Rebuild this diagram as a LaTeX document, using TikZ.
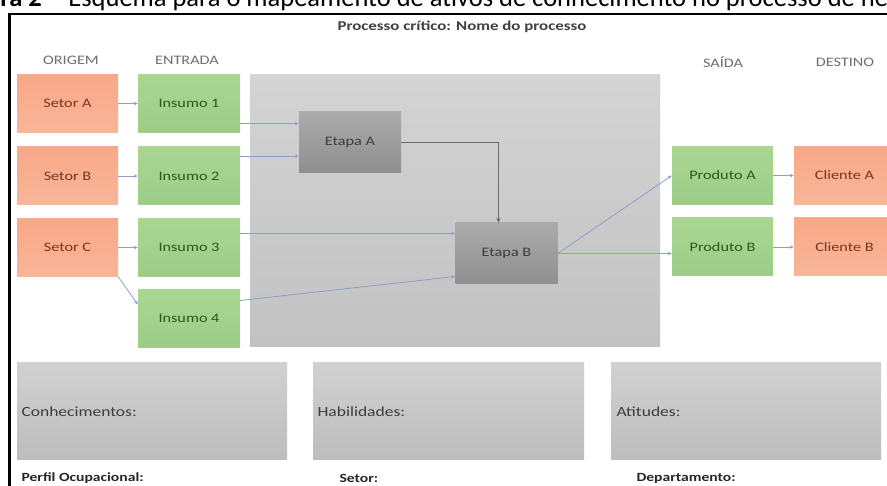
\documentclass[tikz,border=0pt]{standalone}
\usepackage{fontspec}
\setmainfont{Carlito}[FakeStretch=1.25]
\newfontfamily\capfont{Carlito}
\usetikzlibrary{calc,arrows.meta}

\definecolor{orgtop}{RGB}{249,168,136}
\definecolor{orgbot}{RGB}{247,182,152}
\definecolor{orgtxt}{RGB}{125,50,30}
\definecolor{grntop}{RGB}{170,214,148}
\definecolor{grnbot}{RGB}{156,204,136}
\definecolor{grntxt}{RGB}{45,85,30}
\definecolor{flowcol}{RGB}{140,160,200}
\definecolor{hdrtxt}{RGB}{110,110,110}
\definecolor{boxtxt}{RGB}{60,60,60}

\tikzset{
	setorbox/.style={rectangle, minimum width=101pt, minimum height=58pt, inner sep=0pt,
		top color=orgtop, bottom color=orgbot, text=orgtxt, font=\fontsize{13}{15}\selectfont},
	insbox/.style={rectangle, minimum width=102pt, minimum height=58pt, inner sep=0pt,
		top color=grntop, bottom color=grnbot, text=grntxt, font=\fontsize{13}{15}\selectfont},
	etapabox/.style={rectangle, minimum width=102pt, minimum height=61pt, inner sep=0pt,
		top color=black!33, bottom color=black!44, text=boxtxt, font=\fontsize{13}{15}\selectfont},
	header/.style={text=hdrtxt, font=\fontsize{13}{15}\selectfont},
	flow/.style={draw=flowcol, line width=0.8pt, -{Stealth[length=4pt,width=3.5pt]}},
	mainflow/.style={draw=black!58, line width=1.8pt, -{Stealth[length=5pt,width=4.5pt]}},
	fieldlbl/.style={anchor=west, text=boxtxt, font=\fontsize{14}{16}\selectfont},
	footlbl/.style={anchor=west, text=black!85, font=\bfseries\fontsize{12.5}{14}\selectfont}
}

\begin{document}
\begin{tikzpicture}[x=1pt,y=-1pt]
	%%%%% START %%%%%
	\useasboundingbox (0,0) rectangle (887,486);
	\clip (0,0) rectangle (887,486);
	\fill[white] (0,0) rectangle (887,486);
	
	% caption, cut off at the top
	\node[anchor=base east, inner sep=0pt, font=\capfont\bfseries\fontsize{26.5}{28}\selectfont] (capnum) at (42,6.5) {ra 2};
	\node[anchor=base west, inner sep=0pt, font=\capfont\fontsize{26.5}{28}\selectfont] (captext) at (49,6.5) {– Esquema para o mapeamento de ativos de conhecimento no processo de ne};
	
	% frame
	\draw[line width=2.6pt] (9.5,14) -- (887,14);
	\draw[line width=3pt] (9.5,12.7) -- (9.5,486);
	
	\node[text=black!75, font=\bfseries\fontsize{13.5}{15}\selectfont] (titulo) at (462,27) {Processo crítico: Nome do processo};
	
	\node[header] (origem) at (71,60) {ORIGEM};
	\node[header] (entrada) at (187,60) {ENTRADA};
	\node[header] (saida) at (723,62) {SAÍDA};
	\node[header] (destino) at (845,62) {DESTINO};
	
	% process area
	\shade[top color=black!17, bottom color=black!24] (250,75) rectangle (660,347);
	
	\node[setorbox] (sa) at (67.5,103.5) {Setor A};
	\node[setorbox] (sb) at (67.5,176) {Setor B};
	\node[setorbox] (sc) at (67.5,247.5) {Setor C};
	
	\node[insbox] (i1) at (189,103.5) {Insumo 1};
	\node[insbox] (i2) at (189,176) {Insumo 2};
	\node[insbox] (i3) at (189,247.5) {Insumo 3};
	\node[insbox] (i4) at (189,318.5) {Insumo 4};
	
	\node[etapabox] (ea) at (350,142.5) {Etapa A};
	\node[etapabox] (eb) at (506.5,253.5) {Etapa B};
	
	\node[insbox, minimum width=101pt] (pa) at (722.5,175.5) {Produto A};
	\node[insbox, minimum width=101pt] (pb) at (722.5,247) {Produto B};
	
	\node[setorbox] (ca) at (844.5,175.5) {Cliente A};
	\node[setorbox] (cb) at (844.5,247) {Cliente B};
	
	% connectors
	\draw[flow] (sa) -- (i1);
	\draw[flow] (sb) -- (i2);
	\draw[flow] (sc) -- (i3);
	\draw[flow] (sc.south east) -- ([yshift=14pt]i4.west);
	
	\draw[flow] ([yshift=-20pt]i1.east) -- ([yshift=-20pt]i1.east -| ea.west);
	\draw[flow] ([yshift=20pt]i2.east) -- ([yshift=20pt]i2.east -| ea.west);
	\draw[flow] ([yshift=14pt]i3.east) -- ([yshift=14pt]i3.east -| eb.west);
	\draw[flow] ([yshift=18pt]i4.east) -- ([yshift=-23pt]eb.west);
	
	\draw[mainflow] (ea.east) -| ([xshift=-8pt]eb.north);
	
	\draw[flow] (eb.east) -- (pa.west);
	\draw[flow] (eb.east) -- (eb.east -| pb.west);
	\draw[flow] (pa) -- (ca);
	\draw[flow] (pb) -- (cb);
	
	% competence fields
	\shade[top color=black!18, bottom color=black!26] (17,363) rectangle (287,460);
	\shade[top color=black!18, bottom color=black!26] (313,363) rectangle (584,460);
	\shade[top color=black!18, bottom color=black!26] (611,363) rectangle (881,460);
	
	\node[fieldlbl] (conh) at (18,412) {Conhecimentos:};
	\node[fieldlbl] (habil) at (314,412) {Habilidades:};
	\node[fieldlbl] (atit) at (613,412) {Atitudes:};
	
	\node[footlbl] (perfil) at (18,478) {Perfil Ocupacional:};
	\node[footlbl] (setor) at (336,478) {Setor:};
	\node[footlbl] (depto) at (633,478) {Departamento:};
	%%%%% END %%%%%
\end{tikzpicture}
\end{document}
